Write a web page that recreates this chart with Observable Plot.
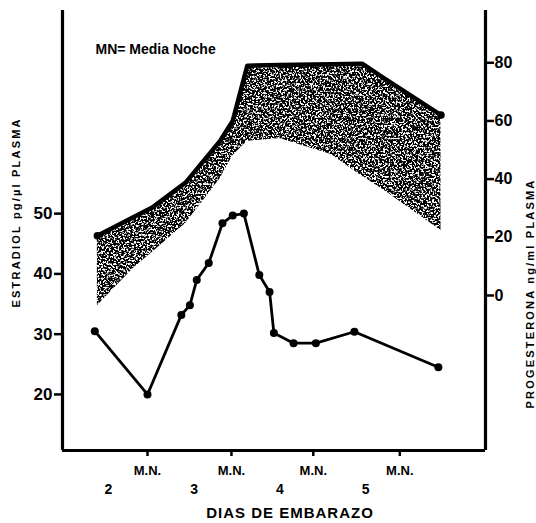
<!DOCTYPE html>
<html>
<head>
<meta charset="utf-8">
<script src="https://cdn.jsdelivr.net/npm/d3@7"></script>
<script src="https://cdn.jsdelivr.net/npm/@observablehq/plot@0.6"></script>
<style>
  html, body { margin: 0; padding: 0; background: #fff; }
</style>
</head>
<body>
<div id="chart"></div>
<script>
// Estradiol (left axis, pg/µl plasma)
const estrDays = [1.84, 2.455, 2.85, 2.95, 3.03, 3.17, 3.33, 3.45, 3.58, 3.76, 3.88, 3.93, 4.16, 4.42, 4.87, 5.85];
const estradiol = [30.5, 20.0, 33.2, 34.8, 39.0, 41.8, 48.4, 49.7, 50.0, 39.8, 37.0, 30.2, 28.5, 28.5, 30.4, 24.5];

// Progesterone band (right axis, ng/ml plasma)
const bandDays = [1.87, 2.3, 2.51, 2.9, 3.3, 3.45, 3.62, 4.0, 4.6, 4.96, 5.2, 5.88];
const progHigh = [20.5, 27.1, 30.2, 38.8, 53, 60, 79, 79.2, 79.5, 79.7, 75, 62];
const progLow  = [-3.5, 9.6, 14.8, 24.7, 40, 48, 53, 54, 48.5, 41, 36.5, 22.3];

// Ticks
const leftTicks = [20, 30, 40, 50];
const rightTicks = [0, 20, 40, 60, 80];
const dayTicks = [2, 3, 4, 5];
const mnTicks = [2.455, 3.435, 4.39, 5.4];

// Texts
const legendText = "MN= Media Noche";
const xTitle = "DIAS DE EMBARAZO";
const leftTitle = "ESTRADIOL pg/µl PLASMA";
const rightTitle = "PROGESTERONA ng/ml PLASMA";
const mnLabel = "M.N.";

const xDomain = [1.463, 6.40];
const yDomain = [10.7, 83.7];

// progesterone -> left-axis units
const pToE = d3.scaleLinear().domain([0, 80]).range([36.42, 75.03]);

const estr = estrDays.map((d, i) => ({day: d, v: estradiol[i]}));
const band = bandDays.map((d, i) => ({day: d, hi: pToE(progHigh[i]), lo: pToE(progLow[i])}));
const bandEnds = [band[0], band[band.length - 1]];

const chart = Plot.plot({
  width: 536,
  height: 523,
  marginLeft: 62,
  marginRight: 51,
  marginTop: 10,
  marginBottom: 73,
  x: {domain: xDomain, label: null},
  y: {domain: yDomain, label: null},
  style: {fontFamily: "'Liberation Sans', Arial, sans-serif", fontWeight: "bold", color: "black", background: "white"},
  marks: [
    Plot.areaY(band, {x: "day", y1: "lo", y2: "hi", fill: "black", curve: "linear"}),
    Plot.line(band, {x: "day", y: "hi", stroke: "black", strokeWidth: 4.5, curve: "linear"}),
    Plot.dot(bandEnds, {x: "day", y: "hi", r: 3.8, fill: "black"}),
    Plot.line(estr, {x: "day", y: "v", stroke: "black", strokeWidth: 2.8}),
    Plot.dot(estr, {x: "day", y: "v", r: 4, fill: "black"}),
    Plot.ruleX(xDomain, {stroke: "black", strokeWidth: 3.2}),
    Plot.ruleY([yDomain[0]], {stroke: "black", strokeWidth: 3.2}),
    Plot.axisY(leftTicks, {anchor: "left", tickSize: 8, tickPadding: 2, fontSize: 17, strokeWidth: 2.5, label: null}),
    Plot.axisY(rightTicks.map(pToE), {anchor: "right", tickSize: 8, tickPadding: 1, fontSize: 16, strokeWidth: 2.5,
      tickFormat: d => String(Math.round(pToE.invert(d))), label: null}),
    Plot.axisX(mnTicks, {anchor: "bottom", tickSize: 6, tickPadding: 9, fontSize: 13, strokeWidth: 2.5,
      tickFormat: () => mnLabel, label: null}),
    Plot.axisX(dayTicks, {anchor: "bottom", tickSize: 0, tickPadding: 34, fontSize: 14,
      tickFormat: d => String(d), label: null}),
    Plot.text([legendText], {frameAnchor: "top-left", textAnchor: "start", lineAnchor: "middle", dx: 33, dy: 39, fontSize: 14}),
    Plot.text([xTitle], {frameAnchor: "bottom", lineAnchor: "middle", dx: 16, dy: 63, fontSize: 15}),
    Plot.text([leftTitle], {frameAnchor: "left", lineAnchor: "middle", rotate: -90, dx: -46, dy: 77, fontSize: 11}),
    Plot.text([rightTitle], {frameAnchor: "right", lineAnchor: "middle", rotate: -90, dx: 45, dy: -52, fontSize: 11})
  ]
});

// stipple texture for the progesterone band
const ns = "http://www.w3.org/2000/svg";
const defs = document.createElementNS(ns, "defs");
defs.innerHTML = `
<filter id="stip" x="-5%" y="-5%" width="110%" height="110%">
  <feTurbulence type="fractalNoise" baseFrequency="0.55" numOctaves="2" seed="7" result="noise"/>
  <feColorMatrix in="noise" type="matrix" values="0 0 0 0 0  0 0 0 0 0  0 0 0 0 0  9 0 0 0 -3.6" result="mask"/>
  <feComposite in="SourceGraphic" in2="mask" operator="in"/>
</filter>`;
chart.insertBefore(defs, chart.firstChild);
const areaPath = chart.querySelector('g[aria-label="area"] path');
if (areaPath) areaPath.setAttribute("filter", "url(#stip)");

// letter spacing / weight for titles
chart.querySelectorAll("text").forEach(t => {
  const s = t.textContent;
  if (s === leftTitle || s === rightTitle) t.style.letterSpacing = "2.2px";
  if (s === xTitle) t.style.letterSpacing = "1px";
});

document.getElementById("chart").appendChild(chart);
</script>
</body>
</html>
